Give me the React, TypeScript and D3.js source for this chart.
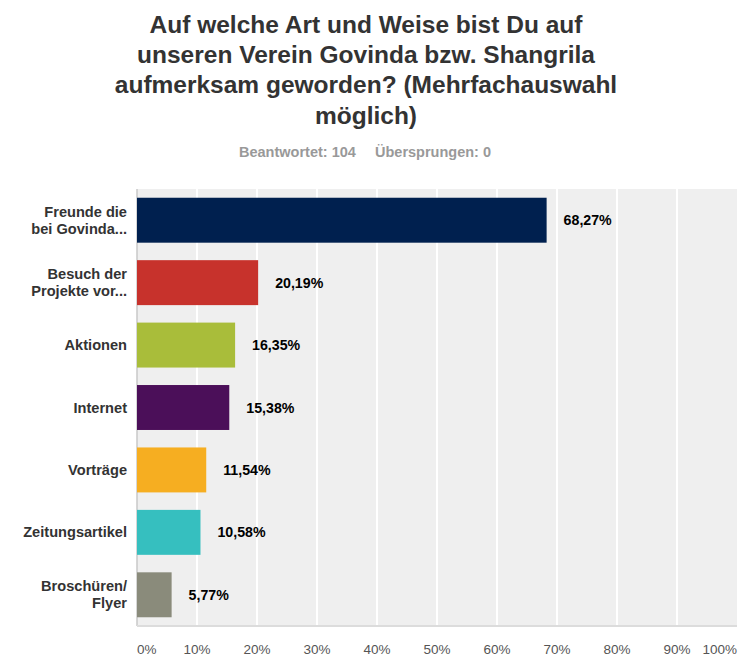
import React from "react";
import * as d3 from "d3";

const titleLines = [
  "Auf welche Art und Weise bist Du auf",
  "unseren Verein Govinda bzw. Shangrila",
  "aufmerksam geworden? (Mehrfachauswahl",
  "möglich)",
];
const answered = "Beantwortet: 104";
const skipped = "Übersprungen: 0";

const categories: string[][] = [
  ["Freunde die", "bei Govinda..."],
  ["Besuch der", "Projekte vor..."],
  ["Aktionen"],
  ["Internet"],
  ["Vorträge"],
  ["Zeitungsartikel"],
  ["Broschüren/", "Flyer"],
];
const values = [68.27, 20.19, 16.35, 15.38, 11.54, 10.58, 5.77];
const colors = ["#00204f", "#c7322c", "#a9bd3a", "#4b0f59", "#f6ae21", "#36bfbf", "#8a8b7b"];
const ticks = [0, 10, 20, 30, 40, 50, 60, 70, 80, 90, 100];

const W = 747;
const H = 668;
const plotLeft = 137;
const plotRight = 737;
const plotTop = 189;
const plotBottom = 626;
const FONT = "'Liberation Sans', Arial, sans-serif";

const fmt = (v: number) => v.toFixed(2).replace(".", ",") + "%";

export default function App() {
  const x = d3.scaleLinear().domain([0, 100]).range([plotLeft, plotRight]);
  const y = d3
    .scaleBand<number>()
    .domain(d3.range(values.length))
    .range([plotTop, plotBottom])
    .paddingInner(0.28)
    .paddingOuter(0.14);
  const bw = y.bandwidth();

  return (
    <div style={{ position: "absolute", left: 0, top: 0 }}>
      <svg width={W} height={H} style={{ display: "block", background: "#fff" }} fontFamily={FONT}>
        {titleLines.map((t, i) => (
          <text key={i} x={366} y={33 + i * 30.2} textAnchor="middle" fontSize={24.5} fontWeight="bold" fill="#333">
            {t}
          </text>
        ))}
        <text x={239} y={157} fontSize={14.5} fontWeight="bold" fill="#999">
          {answered}
        </text>
        <text x={375} y={157} fontSize={14.5} fontWeight="bold" fill="#999">
          {skipped}
        </text>

        <rect x={plotLeft} y={plotTop} width={plotRight - plotLeft} height={plotBottom - plotTop} fill="#efefef" />
        {ticks.slice(1, -1).map((t) => (
          <line key={t} x1={x(t)} x2={x(t)} y1={plotTop} y2={plotBottom} stroke="#fff" strokeWidth={2} />
        ))}
        <line x1={plotLeft} x2={plotLeft} y1={plotTop} y2={plotBottom} stroke="#c8c8c8" strokeWidth={1.5} />
        <line x1={plotLeft} x2={plotRight} y1={plotBottom} y2={plotBottom} stroke="#dcdcdc" strokeWidth={2} />

        {values.map((v, i) => {
          const y0 = y(i)!;
          const cy = y0 + bw / 2;
          const lines = categories[i];
          const lh = 17;
          const startY = cy + 5 - ((lines.length - 1) * lh) / 2;
          return (
            <g key={i}>
              <rect x={x(0)} y={y0} width={x(v) - x(0)} height={bw} fill={colors[i]} />
              <text x={x(v) + 17} y={cy + 5} fontSize={14.2} fontWeight="bold" fill="#000">
                {fmt(v)}
              </text>
              {lines.map((l, j) => (
                <text key={j} x={127} y={startY + j * lh} textAnchor="end" fontSize={14.6} fontWeight="bold" fill="#333">
                  {l}
                </text>
              ))}
            </g>
          );
        })}

        {ticks.map((t, i) => (
          <text
            key={t}
            x={i === 0 ? plotLeft : i === ticks.length - 1 ? plotRight : x(t)}
            y={654}
            textAnchor={i === 0 ? "start" : i === ticks.length - 1 ? "end" : "middle"}
            fontSize={13.5}
            fill="#555"
          >
            {t}%
          </text>
        ))}
      </svg>
    </div>
  );
}
